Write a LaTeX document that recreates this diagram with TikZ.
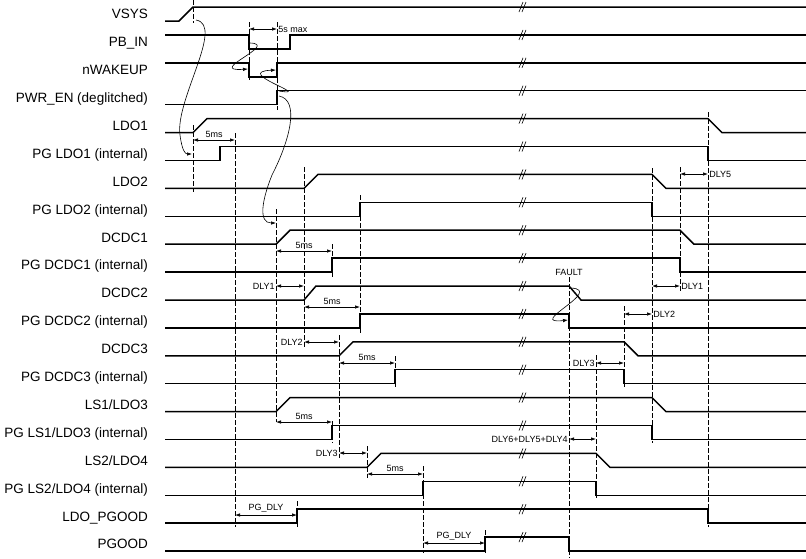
\documentclass[tikz,border=0pt]{standalone}
\usepackage{fontspec}
\setmainfont{Liberation Sans}
\usetikzlibrary{arrows.meta}

\begin{document}
\begin{tikzpicture}[x=1pt,y=-1pt,
  sig/.style={line width=1.5pt},
  tline/.style={line width=1pt,dash pattern=on 4.5pt off 2.5pt},
  dim/.style={line width=0.7pt,{Latex[length=5pt,width=3.5pt]}-{Latex[length=5pt,width=3.5pt]}},
  cause/.style={line width=0.6pt,-{Latex[length=5pt,width=3.5pt]}},
  lbl/.style={font=\fontsize{13.5}{16}\selectfont,anchor=base east,inner sep=0pt},
  sm/.style={font=\fontsize{9}{11}\selectfont,inner sep=1pt}]
\useasboundingbox (0,0) rectangle (806,558);
\foreach \A [count=\i starting from 0, evaluate=\i as \ylo using 21+27.9*\i] in {VSYS,PB\_IN,nWAKEUP,PWR\_EN (deglitched),LDO1,PG LDO1 (internal),LDO2,PG LDO2 (internal),DCDC1,PG DCDC1 (internal),DCDC2,PG DCDC2 (internal),DCDC3,PG DCDC3 (internal),LS1/LDO3,PG LS1/LDO3 (internal),LS2/LDO4,PG LS2/LDO4 (internal),LDO\_PGOOD,PGOOD} {%
    \node[lbl] (l\i) at (148,\ylo-2.2) {\A};
    \draw[line width=0.6pt] (519,\ylo-9) -- (523,\ylo-19) (522,\ylo-9) -- (526,\ylo-19);
}
\foreach \u/\d/\w [count=\i starting from 4, evaluate=\i as \ylo using 21+27.9*\i] in {193/708/14,220/708/0,304/652/14,360/652/0,276/680/14,332/680/0,304/569/12,360/569/0,339/624/14,395/624/0,276/652/14,332/652/0,367/596/14,423/596/0,297/708/0,485/569/0}
    \draw[sig] (165,\ylo) -- (\u,\ylo) -- ++(\w,-14) -- (\d,\ylo-14) -- ++(\w,14) -- (806,\ylo);
\draw[sig] (165,21) -- (179,21) -- (193,7) -- (806,7);
\draw[sig] (165,34.9) -- (249,34.9) -- (249,48.9) -- (290,48.9) -- (290,34.9) -- (806,34.9);
\draw[sig] (165,62.8) -- (249,62.8) -- (249,76.8) -- (277,76.8) -- (277,62.8) -- (806,62.8);
\draw[sig] (165,104.7) -- (277,104.7) -- (277,90.7) -- (806,90.7);
\foreach \x/\a/\b in {193/0/23,249/22/80,277/22/110,193/125/192,235/133/527,276/209/422,304/167/347,332/244/277,332/421/443,360/195/335,339/335/458,395/356/387,367/446/478,423/466/553,297/501/527,485/530/553,569/277/558,596/355/498,624/306/387,652/168/443,680/167/292,708/112/527}
    \draw[tline] (\x,\a) -- (\x,\b);
\foreach \a/\b/\y/\t [count=\k] in {249/277/29/5s max,680/708/174/DLY5,652/680/286/DLY1,624/652/314/DLY2}
    \draw[dim] (\a,\y) -- (\b,\y) node[sm,anchor=west] (r\k) {\t};
\foreach \a/\b/\y/\t [count=\k] in {276/304/286/DLY1,304/339/342/DLY2,339/367/453/DLY3,596/624/363/DLY3,569/596/439/DLY6+DLY5+DLY4}
    \draw[dim] (\b,\y) -- (\a,\y) node[sm,anchor=east] (e\k) {\t};
\foreach \a/\b/\y/\t [count=\k] in {193/235/140/5ms,276/332/251/5ms,304/360/307/5ms,339/395/363/5ms,276/332/422/5ms,367/423/474/5ms,235/297/515/PG\_DLY,423/485/543/PG\_DLY}
    \draw[dim] (\a,\y) -- node[sm,above=1pt] (m\k) {\t} (\b,\y);
\node[sm,anchor=south] (flt) at (569,277) {FAULT};
\draw[cause] (196,20) .. controls (225,25) and (175,100) .. (180,135) .. controls (182,150) and (185,154) .. (192,154);
\draw[cause] (250,43) .. controls (280,44) and (205,72) .. (248,69);
\draw[cause] (279,91) .. controls (315,97) and (232,72) .. (276,70);
\draw[cause] (279,96) .. controls (300,100) and (290,140) .. (272,175) .. controls (262,200) and (258,223) .. (276,223);
\draw[cause] (571,288) .. controls (605,290) and (525,325) .. (568,320);
\end{tikzpicture}
\end{document}
